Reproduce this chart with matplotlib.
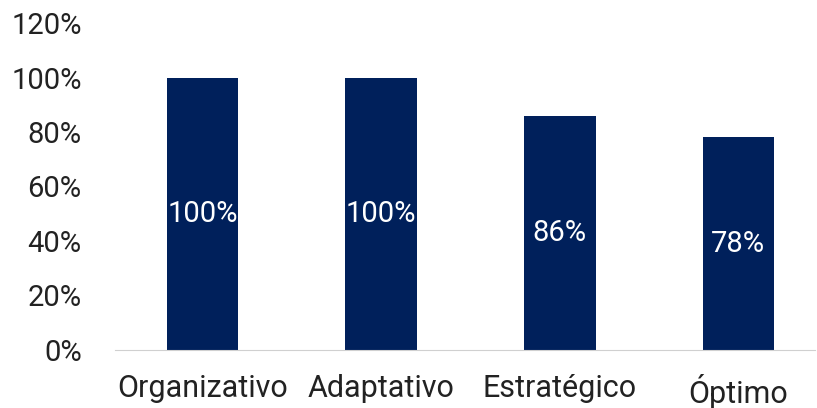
import matplotlib
matplotlib.use("Agg")
import matplotlib.pyplot as plt
from matplotlib.ticker import PercentFormatter

categories = ["Organizativo", "Adaptativo", "Estratégico", "Óptimo"]
values = [100, 100, 86, 78]
yticks = [0, 20, 40, 60, 80, 100, 120]

plt.rcParams["font.family"] = ["Roboto", "DejaVu Sans"]
navy = "#00205B"

fig = plt.figure(figsize=(8.17, 4.08), dpi=100)
ax = fig.add_axes([0.1408, 0.1422, 0.857, 0.8014])

x = range(len(categories))
bars = ax.bar(x, values, width=0.4, color=navy)
for b, v in zip(bars, values):
    ax.text(b.get_x() + b.get_width() / 2, v / 2, f"{v}%", ha="center", va="center",
            color="white", fontsize=21)

ax.set_xlim(-0.49, 3.43)
ax.set_ylim(0, 120)
ax.set_yticks(yticks)
ax.yaxis.set_major_formatter(PercentFormatter(decimals=0))
ax.set_xticks(list(x))
ax.set_xticklabels(categories)
ax.tick_params(axis="y", length=0, labelsize=21, pad=24, colors="#222222")
ax.tick_params(axis="x", length=0, labelsize=22, pad=17, colors="#222222")
for s in ["top", "right", "left"]:
    ax.spines[s].set_visible(False)
ax.spines["bottom"].set_color("#d0d0d0")

fig.savefig("out.png", dpi=100)
